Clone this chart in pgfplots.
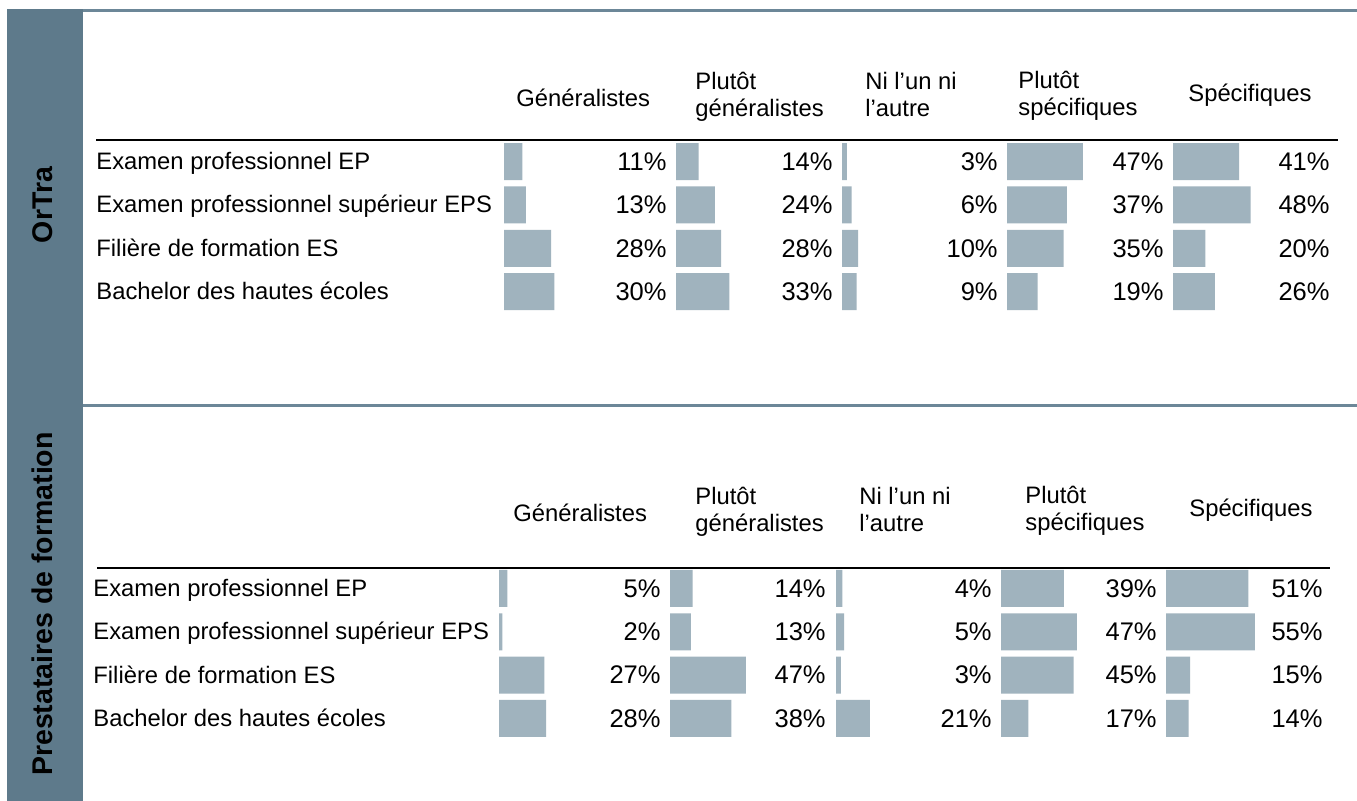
\documentclass[border=0pt]{standalone}
\usepackage{pgfplots}
\pgfplotsset{compat=1.18}
\usepackage{pgfplotstable}
\usepackage{fontspec}
\setmainfont{Liberation Sans}
\definecolor{side}{HTML}{5E7A8B}
\definecolor{rulec}{HTML}{6C8798}
\definecolor{barc}{HTML}{A0B3BE}

% OrTra
\pgfplotstableread{
row g pg ni ps s
1 11 14 3 47 41
2 13 24 6 37 48
3 28 28 10 35 20
4 30 33 9 19 26
}\ortra
% Prestataires de formation
\pgfplotstableread{
row g pg ni ps s
1 5 14 4 39 51
2 2 13 5 47 55
3 27 47 3 45 15
4 28 38 21 17 14
}\prest

\newcommand\lbl{\fontsize{12.75pt}{15pt}\selectfont}
\newcommand\txt{\fontsize{11.9pt}{14pt}\selectfont}
\newcommand\sidefont{\fontsize{14.25pt}{17pt}\selectfont\bfseries}

\pgfplotsset{
  colax/.style={anchor=north west, scale only axis, height=86.65pt,
    xmin=0, xmax=100, ymin=0.5, ymax=4.5, y dir=reverse, hide axis, clip=false},
}

% #1 x px, #2 y px, #3 table, #4 column, #5 label x, #6 axis width
\newcommand\column[6]{%
  \begin{axis}[colax, width=#6, at={(#1*0.5pt,-#2*0.5pt)}]
    \addplot[xbar, bar width=18.5pt, fill=barc, draw=none] table[x=#4, y=row]{#3};
    \addplot[draw=none, mark=none, point meta=explicit symbolic,
      nodes near coords={\pgfplotspointmeta\%},
      nodes near coords style={anchor=east, inner sep=0pt, font=\lbl, text=black}]
      table[x expr=#5, y=row, meta=#4]{#3};
  \end{axis}}

\begin{document}
\begin{tikzpicture}[x=0.5pt,y=-0.5pt]
\path[use as bounding box] (0,0) rectangle (1357,801);
\fill[white] (0,0) rectangle (1357,801);
% sidebar and panel rules
\fill[side] (7,9) rectangle (83,801);
\fill[rulec] (83,9) rectangle (1357,12);
\fill[rulec] (83,404) rectangle (1357,407);
\draw[black, line width=1.25pt] (96,140) -- (1338,140);
\draw[black, line width=1.25pt] (97,568) -- (1330,568);
\node[rotate=90, anchor=base, font=\sidefont, text=black, inner sep=0pt] at (53,205) {OrTra};
\node[rotate=90, anchor=base, font=\sidefont, text=black, inner sep=0pt] at (53,604) {Prestataires de formation};

% ---------- top panel ----------
\begin{scope}[every node/.style={font=\txt, anchor=base west, inner sep=0pt}]
\node at (516,107) {Généralistes};
\node at (695,90) {Plutôt};
\node at (695,117) {généralistes};
\node at (865,90) {Ni l’un ni};
\node at (865,117) {l’autre};
\node at (1018,89) {Plutôt};
\node at (1018,116) {spécifiques};
\node at (1188,102) {Spécifiques};
\node at (96,169.5) {Examen professionnel EP};
\node at (96,212.8) {Examen professionnel supérieur EPS};
\node at (96,256.1) {Filière de formation ES};
\node at (96,299.4) {Bachelor des hautes écoles};
% ---------- bottom panel ----------
\node at (513,522) {Généralistes};
\node at (695,505) {Plutôt};
\node at (695,532) {généralistes};
\node at (859,505) {Ni l’un ni};
\node at (859,532) {l’autre};
\node at (1025,504) {Plutôt};
\node at (1025,531) {spécifiques};
\node at (1189,517) {Spécifiques};
\node at (93,596.5) {Examen professionnel EP};
\node at (93,639.8) {Examen professionnel supérieur EPS};
\node at (93,683.1) {Filière de formation ES};
\node at (93,726.4) {Bachelor des hautes écoles};
\end{scope}

\column{504}{140}{\ortra}{g}{97.0}{84pt}
\column{676}{140}{\ortra}{pg}{97.2}{80.75pt}
\column{842}{140}{\ortra}{ni}{96.6}{80.75pt}
\column{1007}{140}{\ortra}{ps}{97.2}{80.75pt}
\column{1173}{140}{\ortra}{s}{97.2}{80.75pt}

\column{499}{566.8}{\prest}{g}{96.4}{84pt}
\column{670}{566.8}{\prest}{pg}{96.6}{80.75pt}
\column{836}{566.8}{\prest}{ni}{96.6}{80.75pt}
\column{1001}{566.8}{\prest}{ps}{96.6}{80.75pt}
\column{1166}{566.8}{\prest}{s}{97.2}{80.75pt}
\end{tikzpicture}
\end{document}
